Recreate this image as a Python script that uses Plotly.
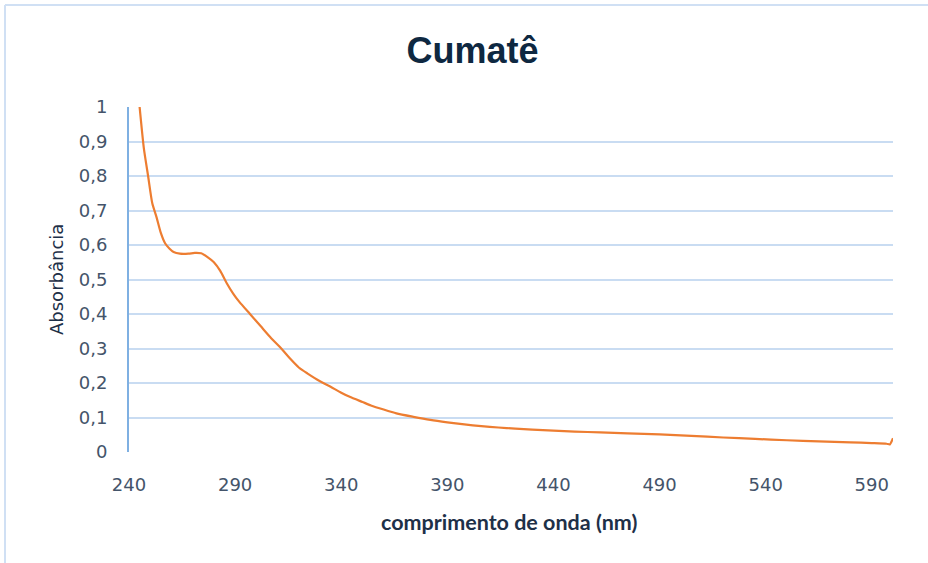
import plotly.graph_objects as go

wavelength = [245, 247, 249, 251, 253, 255, 257, 259, 261, 264, 268, 271, 274, 277, 280, 283, 286, 289,
              292, 297, 302, 307, 311, 316, 320, 324, 330, 335, 340, 344, 350, 354, 360, 366, 374, 382,
              390, 398, 406, 414, 422, 430, 440, 450, 462, 475, 490, 505, 520, 535, 550, 565, 580, 590,
              597, 598.5, 600]
absorbance = [1.0, 0.88, 0.80, 0.72, 0.68, 0.635, 0.605, 0.59, 0.58, 0.575, 0.575, 0.577, 0.576, 0.565,
              0.55, 0.525, 0.49, 0.46, 0.435, 0.40, 0.365, 0.33, 0.305, 0.27, 0.245, 0.228, 0.205, 0.189,
              0.172, 0.160, 0.145, 0.135, 0.123, 0.112, 0.102, 0.093, 0.086, 0.080, 0.075, 0.071, 0.068,
              0.065, 0.062, 0.059, 0.057, 0.054, 0.051, 0.047, 0.042, 0.038, 0.034, 0.031, 0.028, 0.026,
              0.024, 0.022, 0.040]

x_ticks = [240, 290, 340, 390, 440, 490, 540, 590]
y_ticks = [0, 0.1, 0.2, 0.3, 0.4, 0.5, 0.6, 0.7, 0.8, 0.9, 1]

tick_color = "#44546a"
label_color = "#1e3048"
grid_color = "#c9dcf2"

fig = go.Figure()
fig.add_trace(go.Scatter(x=wavelength, y=absorbance, mode="lines",
                         line=dict(color="#ed7d31", width=2.2, shape="spline", smoothing=0.6),
                         showlegend=False))

fig.update_layout(
    width=928, height=563,
    margin=dict(l=129, r=35, t=107, b=111),
    paper_bgcolor="white", plot_bgcolor="white",
    separators=", ",
    title=dict(text="<b>Cumatê</b>", x=472.5 / 928, xanchor="center",
               y=1 - 50 / 563, yanchor="middle",
               font=dict(family="Liberation Sans, Arial", size=36, color="#0e2841")),
    font=dict(family="DejaVu Sans", color=tick_color),
)
fig.update_xaxes(
    range=[240, 600], tickvals=x_ticks, showgrid=False, zeroline=False, showline=False,
    ticks="outside", ticklen=16, tickcolor="rgba(0,0,0,0)",
    tickfont=dict(family="DejaVu Sans", size=18, color=tick_color),
)
fig.update_yaxes(
    range=[0, 1], tickvals=y_ticks, showgrid=True, gridcolor=grid_color, gridwidth=2,
    zeroline=False, showline=True, linecolor="#7fb0e2", linewidth=2,
    ticks="outside", ticklen=16, tickcolor="rgba(0,0,0,0)",
    tickfont=dict(family="DejaVu Sans", size=18, color=tick_color),
)
fig.add_annotation(text="<b>comprimento de onda (nm)</b>", xref="paper", yref="paper",
                   x=(509 - 129) / 764, y=(452 - 522) / 345, xanchor="center", yanchor="middle",
                   showarrow=False, font=dict(family="Lato", size=21.5, color=label_color))
fig.add_annotation(text="Absorbância", xref="paper", yref="paper", textangle=-90,
                   x=(56 - 129) / 764, y=(452 - 280) / 345, xanchor="center", yanchor="middle",
                   showarrow=False, font=dict(family="DejaVu Sans", size=18, color=label_color))
# outer chart-area border (top and left edges visible)
bx0 = (5 - 129) / 764
by1 = (452 - 5) / 345
fig.add_shape(type="line", xref="paper", yref="paper", x0=bx0, x1=1.2, y0=by1, y1=by1,
              line=dict(color="#d0e0f4", width=2), layer="below")
fig.add_shape(type="line", xref="paper", yref="paper", x0=bx0, x1=bx0, y0=-0.5, y1=by1,
              line=dict(color="#d0e0f4", width=2), layer="below")

fig.write_html("out.html", config={"displayModeBar": False},
               post_script="document.body.style.margin='0px';document.body.style.overflow='hidden';")
